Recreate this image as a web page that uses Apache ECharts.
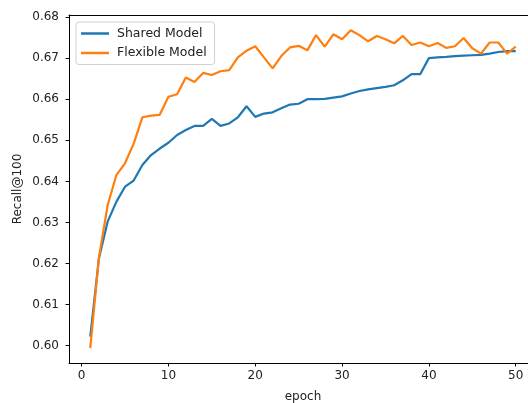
<!DOCTYPE html>
<html>
<head>
<meta charset="utf-8">
<script src="https://cdn.jsdelivr.net/npm/echarts@6/dist/echarts.min.js"></script>
<style>
html,body{margin:0;padding:0;background:#fff;}
#chart{width:528px;height:403px;}
</style>
</head>
<body>
<div id="chart"></div>
<script>
const epochs = [];
for (let i = 1; i <= 50; i++) epochs.push(i);

const sharedModel = [
  0.6022, 0.6213, 0.6302, 0.6350, 0.6387, 0.6402, 0.6440, 0.6464, 0.6480, 0.6494,
  0.6513, 0.6525, 0.6535, 0.6535, 0.6552, 0.6535, 0.6541, 0.6556, 0.6583, 0.6557,
  0.6565, 0.6568, 0.6578, 0.6587, 0.6589, 0.6600, 0.6600, 0.6601, 0.6604, 0.6607,
  0.6614, 0.6620, 0.6624, 0.6627, 0.6630, 0.6634, 0.6646, 0.6661, 0.6661, 0.6700,
  0.6702, 0.6703, 0.6705, 0.6706, 0.6707, 0.6708, 0.6711, 0.6715, 0.6717, 0.6717
];

const flexibleModel = [
  0.5994, 0.6215, 0.6342, 0.6415, 0.6444, 0.6492, 0.6556, 0.6560, 0.6562, 0.6606,
  0.6612, 0.6653, 0.6642, 0.6664, 0.6659, 0.6668, 0.6671, 0.6702, 0.6718, 0.6729,
  0.6702, 0.6675, 0.6705, 0.6726, 0.6730, 0.6719, 0.6756, 0.6728, 0.6758, 0.6746,
  0.6768, 0.6756, 0.6741, 0.6754, 0.6746, 0.6736, 0.6754, 0.6732, 0.6738, 0.6729,
  0.6737, 0.6725, 0.6729, 0.6749, 0.6724, 0.6711, 0.6738, 0.6738, 0.6711, 0.6728
];

const xTicks = [0, 10, 20, 30, 40, 50];
const yTicks = [0.60, 0.61, 0.62, 0.63, 0.64, 0.65, 0.66, 0.67, 0.68];

const font = 'DejaVu Sans';
const chart = echarts.init(document.getElementById('chart'));
const xMin = -1.45, xMax = 52.45;
chart.setOption({
  animation: false,
  backgroundColor: '#fff',
  grid: {
    left: 69, top: 15, width: 468, height: 348,
    outerBoundsMode: 'none',
    containLabel: false,
    show: false
  },
  legend: {
    orient: 'vertical',
    left: 76, top: 22,
    data: ['Shared Model', 'Flexible Model'],
    icon: 'rect',
    itemWidth: 28, itemHeight: 2.5,
    itemGap: 6.5,
    padding: [5, 8, 5, 5],
    borderColor: '#d0d0d0', borderWidth: 1, borderRadius: 3,
    backgroundColor: 'rgba(255,255,255,0.8)',
    textStyle: { fontFamily: font, fontSize: 12.5, color: '#222', padding: [0, 0, 0, 3] }
  },
  xAxis: [{
    type: 'value',
    min: xMin, max: xMax,
    name: 'epoch', nameLocation: 'middle', nameGap: 28,
    nameTextStyle: { fontFamily: font, fontSize: 12, color: '#222' },
    axisLine: { show: true, onZero: false, lineStyle: { color: '#000', width: 1 } },
    axisTick: { show: true, inside: false, length: 3.5, customValues: xTicks, lineStyle: { color: '#000' } },
    axisLabel: { customValues: xTicks, fontFamily: font, fontSize: 12, color: '#222', margin: 7 },
    splitLine: { show: false }
  }, {
    type: 'value', position: 'top',
    min: xMin, max: xMax,
    axisLine: { show: true, onZero: false, lineStyle: { color: '#000', width: 1 } },
    axisTick: { show: false }, axisLabel: { show: false }, splitLine: { show: false }
  }],
  yAxis: {
    type: 'value',
    min: 0.59579, max: 0.6805,
    name: 'Recall@100', nameLocation: 'middle', nameGap: 45,
    nameMoveOverlap: false,
    nameTextStyle: { fontFamily: font, fontSize: 12, color: '#222' },
    axisLine: { show: true, onZero: false, lineStyle: { color: '#000', width: 1 } },
    axisTick: { show: true, inside: false, length: 3.5, customValues: yTicks, lineStyle: { color: '#000' } },
    axisLabel: {
      customValues: yTicks, fontFamily: font, fontSize: 12, color: '#222', margin: 10,
      formatter: v => v.toFixed(2)
    },
    splitLine: { show: false }
  },
  series: [
    {
      name: 'Shared Model', type: 'line', showSymbol: false,
      data: epochs.map((e, i) => [e, sharedModel[i]]),
      lineStyle: { color: '#1f77b4', width: 2.2 },
      itemStyle: { color: '#1f77b4' }
    },
    {
      name: 'Flexible Model', type: 'line', showSymbol: false,
      data: epochs.map((e, i) => [e, flexibleModel[i]]),
      lineStyle: { color: '#ff7f0e', width: 2.2 },
      itemStyle: { color: '#ff7f0e' }
    }
  ]
});
</script>
</body>
</html>
